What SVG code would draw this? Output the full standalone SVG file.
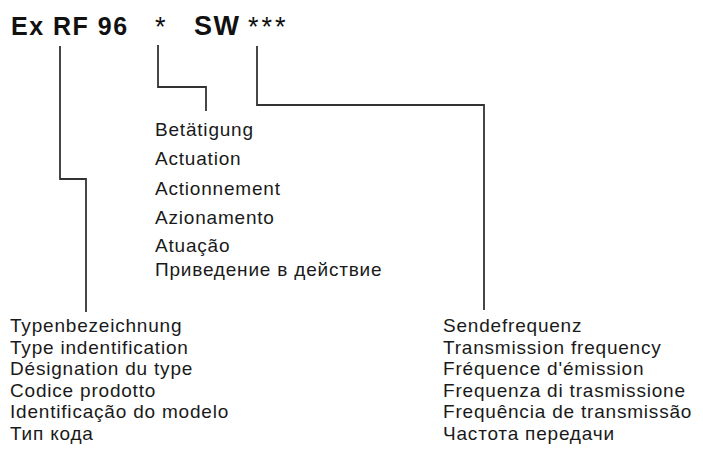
<svg xmlns="http://www.w3.org/2000/svg" width="703" height="459" viewBox="0 0 703 459">
<style>
.t{font-family:"Liberation Sans",Arial,sans-serif;font-size:19px;letter-spacing:0.8px;fill:#1a1a1a}
.h{font-family:"Liberation Sans",Arial,sans-serif;font-size:25px;letter-spacing:1.5px;font-weight:bold;fill:#111}
.s{font-family:"Liberation Sans",Arial,sans-serif;font-size:27px;fill:#111}
.c{fill:none;stroke:#333;stroke-width:1.8}
</style>
<rect width="703" height="459" fill="#fff"/>
<g id="code">
<text class="h" x="11" y="35">Ex RF 96</text>
<text class="s" x="155" y="36">*</text>
<text class="h" x="194" y="35" style="font-size:27px">SW</text>
<text class="s" x="248" y="36" letter-spacing="3">***</text>
</g>
<g id="connectors">
<polyline class="c" points="60,46 60,179 86,179 86,312"/>
<polyline class="c" points="158,45 158,87 206,87 206,111"/>
<polyline class="c" points="257,46 257,105 484,105 484,310"/>
</g>
<g id="actuation">
<text class="t" x="155" y="136">Betätigung</text>
<text class="t" x="155" y="165">Actuation</text>
<text class="t" x="155" y="195">Actionnement</text>
<text class="t" x="155" y="224">Azionamento</text>
<text class="t" x="155" y="252">Atuação</text>
<text class="t" x="155" y="276">Приведение в действие</text>
</g>
<g id="type">
<text class="t" x="10" y="332">Typenbezeichnung</text>
<text class="t" x="10" y="353.5">Type indentification</text>
<text class="t" x="10" y="375">Désignation du type</text>
<text class="t" x="10" y="396.5">Codice prodotto</text>
<text class="t" x="10" y="418">Identificação do modelo</text>
<text class="t" x="10" y="440">Тип кода</text>
</g>
<g id="frequency">
<text class="t" x="443" y="332">Sendefrequenz</text>
<text class="t" x="443" y="353.5">Transmission frequency</text>
<text class="t" x="443" y="375">Fréquence d'émission</text>
<text class="t" x="443" y="396.5">Frequenza di trasmissione</text>
<text class="t" x="443" y="418">Frequência de transmissão</text>
<text class="t" x="443" y="440">Частота передачи</text>
</g>
</svg>
